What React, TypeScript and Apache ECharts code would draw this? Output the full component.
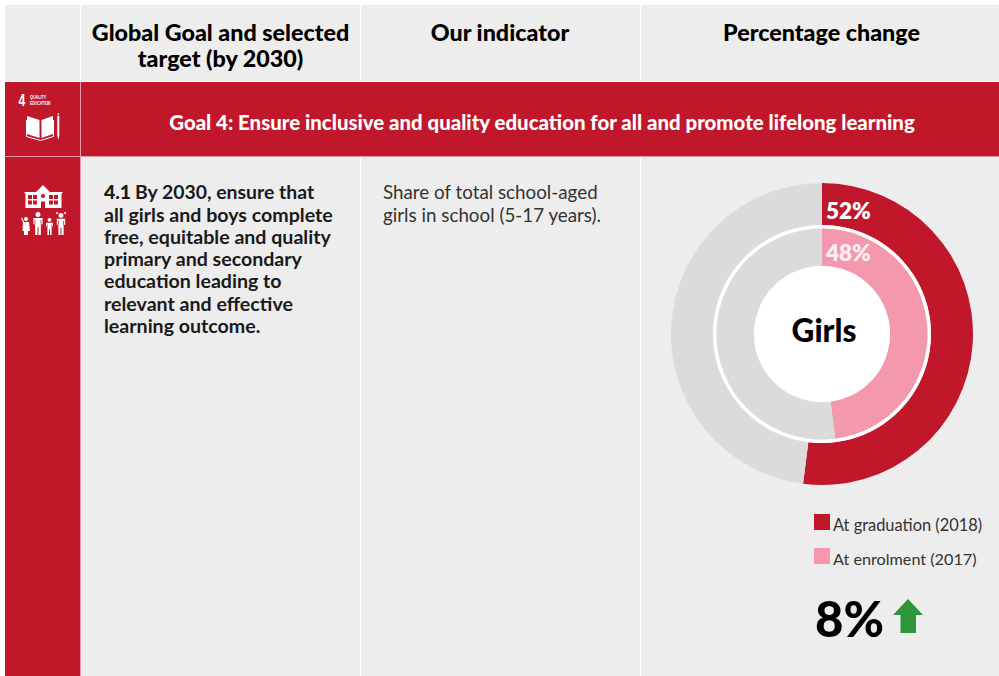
import React, { useEffect, useRef } from "react";
import * as echarts from "echarts";

const FONT = "Lato, 'Noto Sans', sans-serif";
const RED = "#c0172b";
const PINK = "#f498ae";
const GREY = "#dbdbdb";
const PANEL = "#ededed";
const EDGE = "#ea9aa8";

const outerName = "At graduation (2018)";
const innerName = "At enrolment (2017)";
const outerValues = [52, 48];
const innerValues = [48, 52];
const headers = ["Global Goal and selected\ntarget (by 2030)", "Our indicator", "Percentage change"];
const goalTitle = "Goal 4: Ensure inclusive and quality education for all and promote lifelong learning";
const targetLines = ["By 2030, ensure that", "all girls and boys complete", "free, equitable and quality", "primary and secondary", "education leading to", "relevant and effective", "learning outcome."];
const indicatorLines = ["Share of total school-aged", "girls in school (5-17 years)."];
const change = "8%";

const T = (x: number, y: number, text: string, size: number, weight: any, fill: string, align: any = "left", extra: any = {}) => ({
  type: "text", x, y, silent: true, z: 10,
  style: { text, fontFamily: FONT, fontSize: size, fontWeight: weight, fill, align, verticalAlign: "middle", ...extra },
});
const Narrow = (x: number, y: number, text: string, size: number, scaleX: number) => ({
  ...T(x, y, text, size, 700, "#fff", "left", { fontFamily: "'Liberation Sans', Arial, sans-serif" }),
  scaleX,
});
const R = (x: number, y: number, w: number, h: number, fill: string, z = 0) => ({
  type: "rect", silent: true, z, shape: { x, y, width: w, height: h }, style: { fill },
});
const Poly = (points: number[][], fill: string, z = 10) => ({ type: "polygon", silent: true, z, shape: { points }, style: { fill } });
const C = (cx: number, cy: number, r: number, fill: string, z = 10) => ({ type: "circle", silent: true, z, shape: { cx, cy, r }, style: { fill } });
const Line = (points: number[][], lineWidth: number) => ({ type: "polyline", silent: true, z: 10, shape: { points }, style: { stroke: "#fff", fill: "none", lineWidth } });

function person(cx: number, top: number, h: number, halfW: number) {
  const w = halfW;
  const head = h * 0.11;
  const shoulder = top + head * 2 + 1;
  const hip = top + h * 0.62;
  return [
    C(cx, top + head, head, "#fff"),
    Poly([[cx - w, shoulder], [cx + w, shoulder], [cx + w, hip - 2], [cx + w * 0.62, hip - 2], [cx + w * 0.62, top + h], [cx + 0.5, top + h], [cx + 0.5, hip + 1], [cx - 0.5, hip + 1], [cx - 0.5, top + h], [cx - w * 0.62, top + h], [cx - w * 0.62, hip - 2], [cx - w, hip - 2]], "#fff"),
    R(cx - w + 1.2, shoulder + 2, 0.7, hip - shoulder - 4, RED, 11),
    R(cx + w - 1.9, shoulder + 2, 0.7, hip - shoulder - 4, RED, 11),
  ];
}

export default function App() {
  const ref = useRef<HTMLDivElement>(null);
  useEffect(() => {
    document.body.style.margin = "0";
    const chart = echarts.init(ref.current!, null, { renderer: "svg" });
    const graphics: any[] = [
      // panels
      R(5, 5, 75, 76, PANEL), R(81, 5, 279, 76, PANEL), R(361, 5, 279, 76, PANEL), R(641, 5, 358, 76, PANEL),
      R(5, 82, 75, 74, RED), R(81, 82, 918, 74, RED),
      R(5, 157, 75, 519, RED), R(81, 157, 279, 519, PANEL), R(361, 157, 279, 519, PANEL), R(641, 157, 358, 519, PANEL),
      R(80, 82, 1, 594, EDGE, 1), R(5, 156, 994, 1, EDGE, 1),
      // headers
      T(220.5, 45, headers[0], 23.3, 900, "#000", "center", { lineHeight: 26.5 }),
      T(500, 32, headers[1], 23.3, 900, "#000", "center"),
      T(821.5, 32, headers[2], 23.3, 900, "#000", "center"),
      T(542, 122, goalTitle, 20.4, 900, "#fff", "center"),
      // target text
      T(104, 191, "4.1", 19.4, 900, "#1a1a1a"),
      T(135, 191, targetLines[0], 19.4, 700, "#1a1a1a"),
      ...targetLines.slice(1).map((l, i) => T(104, 214 + i * 22.3, l, 19.6, 700, "#1a1a1a")),
      // indicator text
      ...indicatorLines.map((l, i) => T(383, 191 + i * 23, l, 18.8, 400, "#333")),
      // ring labels
      T(826, 210, outerValues[0] + "%", 22.5, 800, "#fff"),
      T(826, 252, innerValues[0] + "%", 22.5, 800, "#fdeef2"),
      T(824, 330, "Girls", 31.5, 900, "#000", "center"),
      // legend
      R(814, 514, 16, 16, RED, 5), T(833, 524, outerName, 16.4, 400, "#333"),
      R(814, 548, 16, 16, PINK, 5), T(833, 558, innerName, 16.2, 400, "#333"),
      // change + arrow
      T(815, 618, change, 49, 900, "#000"),
      Poly([[908, 599], [923, 615], [916, 615], [916, 633], [900.5, 633], [900.5, 615], [893, 615]], "#2e9639"),
      // goal icon: number, small caption, book and pencil
      Narrow(18.5, 100.5, "4", 17, 0.72),
      Narrow(30, 97, "QUALITY", 6, 0.62),
      Narrow(30, 103.5, "EDUCATION", 6, 0.58),
      Poly([[27, 116], [39.5, 120], [39.5, 138], [27, 134]], "#fff"),
      Poly([[53, 116], [41.5, 120], [41.5, 138], [53, 134]], "#fff"),
      Line([[26.5, 120], [26.5, 136.5], [40.5, 140.5], [53.5, 136.5], [53.5, 120]], 1),
      R(57.3, 116, 2, 20, "#fff", 10),
      R(57.8, 113, 1, 2.4, "#fff", 10),
      Poly([[57.3, 136], [59.3, 136], [58.3, 139.5]], "#fff"),
      // school icon
      Poly([[24, 192], [36, 192], [43, 185], [50, 192], [63, 192], [61.5, 194], [61.5, 208], [25.5, 208], [25.5, 194]], "#fff"),
      ...[28, 33, 49, 54].flatMap((x) => [R(x, 195, 4, 4, RED, 11), R(x, 200.5, 4, 4, RED, 11)]),
      R(41, 201.5, 4, 6.5, RED, 11),
      C(43, 196, 2, RED, 11),
      ...person(38, 212, 23, 4.6),
      ...person(49.5, 218, 17, 3.4),
      ...person(61, 213, 22, 4.2),
      // waving child
      C(26, 219, 2, "#fff"),
      Poly([[23, 222], [29, 222], [30, 231], [28, 231], [28, 235], [24, 235], [24, 231], [22.5, 231]], "#fff"),
      Line([[24, 223], [21.5, 218]], 1.2),
      // pigtails on the last figure
      C(57, 213, 1, "#fff"), C(65, 213, 1, "#fff"),
    ];
    chart.setOption({
      animation: false,
      backgroundColor: "#ffffff",
      graphic: { elements: graphics },
      series: [
        {
          type: "pie", name: "graduation", center: [822, 334], radius: [109, 151], startAngle: 90, clockwise: true,
          silent: true, z: 3, label: { show: false }, labelLine: { show: false },
          data: [{ name: outerName, value: outerValues[0], itemStyle: { color: RED } }, { name: "Rest of graduation", value: outerValues[1], itemStyle: { color: GREY } }],
        },
        {
          type: "pie", name: "white ring", center: [822, 334], radius: [105.5, 109], silent: true, z: 3,
          label: { show: false }, labelLine: { show: false },
          data: [{ name: "ring", value: 1, itemStyle: { color: "#fff" } }],
        },
        {
          type: "pie", name: "enrolment", center: [822, 334], radius: [68, 105.5], startAngle: 90, clockwise: true,
          silent: true, z: 3, label: { show: false }, labelLine: { show: false },
          data: [{ name: innerName, value: innerValues[0], itemStyle: { color: PINK } }, { name: "Rest of enrolment", value: innerValues[1], itemStyle: { color: GREY } }],
        },
        {
          type: "pie", name: "centre", center: [822, 334], radius: [0, 68], silent: true, z: 3,
          label: { show: false }, labelLine: { show: false },
          data: [{ name: "centre", value: 1, itemStyle: { color: "#fff" } }],
        },
      ],
    });
    return () => chart.dispose();
  }, []);
  return <div ref={ref} style={{ position: "fixed", left: 0, top: 0, width: 999, height: 676 }} />;
}
